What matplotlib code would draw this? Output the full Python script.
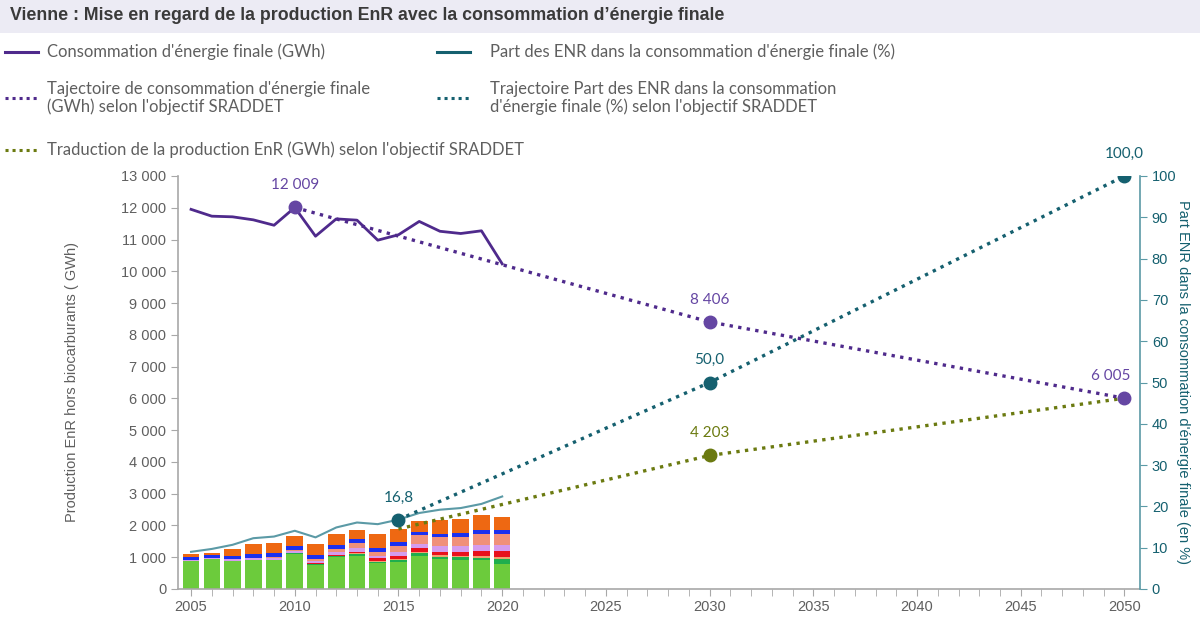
import matplotlib
matplotlib.use("Agg")
import matplotlib.pyplot as plt
from matplotlib.lines import Line2D
from matplotlib.patches import Rectangle
from matplotlib.ticker import FuncFormatter, MultipleLocator

# --- données ---------------------------------------------------------------
ANNEES = list(range(2005, 2021))

# production EnR par filière (GWh), empilée du bas vers le haut
PROD_VERT = [880, 930, 880, 910, 910, 1100, 760, 1010, 1050, 810, 860, 1050, 940, 920, 900, 800]
PROD_VERT_FONCE = [10, 10, 10, 10, 10, 20, 30, 40, 50, 50, 60, 80, 80, 80, 90, 130]
PROD_ORANGE_CLAIR = [0, 0, 0, 0, 0, 0, 0, 0, 30, 30, 40, 50, 50, 50, 60, 70]
PROD_ROUGE = [0, 0, 0, 0, 0, 10, 20, 20, 40, 80, 80, 110, 110, 120, 160, 200]
PROD_VIOLET = [30, 40, 40, 50, 60, 60, 70, 90, 120, 80, 120, 140, 170, 170, 180, 170]
PROD_SAUMON = [0, 0, 10, 20, 30, 30, 80, 100, 170, 120, 200, 260, 280, 300, 350, 370]
PROD_BLEU = [80, 80, 90, 110, 120, 120, 120, 110, 110, 120, 110, 110, 110, 110, 110, 110]
PROD_ORANGE = [95, 85, 220, 320, 320, 340, 330, 355, 280, 435, 420, 325, 435, 450, 475, 430]

CONSO = [11950, 11735, 11715, 11620, 11450, 12009, 11105, 11650, 11610, 10980,
         11150, 11570, 11260, 11190, 11275, 10235]
PART_ENR = [9.0, 9.7, 10.7, 12.3, 12.7, 14.1, 12.5, 14.9, 16.1, 15.7,
            16.8, 18.4, 19.2, 19.6, 20.6, 22.4]

TRAJ_CONSO_ANNEES = [2010, 2030, 2050]
TRAJ_CONSO = [12009, 8406, 6005]
TRAJ_PART_ANNEES = [2015, 2030, 2050]
TRAJ_PART = [16.8, 50.0, 100.0]
TRAJ_PROD_ANNEES = [2015, 2030, 2050]
TRAJ_PROD = [1890, 4203, 6005]

# --- style -----------------------------------------------------------------
VIOLET_FONCE = "#4f2a8c"
VIOLET_MARQ = "#6546a3"
SARCELLE = "#15606f"
SARCELLE_CLAIR = "#5b9aa6"
OLIVE = "#6b7a10"
GRIS = "#5f5f5f"
GRIS_AXE = "#a8a8a8"
TITRE_FOND = "#ecebf4"

COULEURS_PILE = ["#6ccb3c", "#1fae4e", "#f3a070", "#e8101c",
                 "#d49cee", "#f0907a", "#1a30f0", "#ee6812"]
PILES = [PROD_VERT, PROD_VERT_FONCE, PROD_ORANGE_CLAIR, PROD_ROUGE,
         PROD_VIOLET, PROD_SAUMON, PROD_BLEU, PROD_ORANGE]

POLICE = ["Lato", "DejaVu Sans"]
POLICE_AXE = ["Liberation Sans", "DejaVu Sans"]


def milliers(v, _pos=None):
    return f"{int(round(v)):,}".replace(",", " ")


fig = plt.figure(figsize=(12, 6.22), dpi=100)
fig.patch.set_facecolor("white")

# bandeau de titre
fig.add_artist(Rectangle((0, 1 - 33 / 622), 1, 33 / 622, transform=fig.transFigure,
                         facecolor=TITRE_FOND, edgecolor="none"))
fig.text(10 / 1200, 1 - 16 / 622,
         "Vienne : Mise en regard de la production EnR avec la consommation d’énergie finale",
         family=["Liberation Sans Narrow", "Liberation Sans", "DejaVu Sans"],
         weight="bold", fontsize=12.8, color="#3a3a3a", va="center", ha="left")

# légende (dessinée à la main pour suivre la mise en page d'origine)
legende = [
    (5, 47, 52, VIOLET_FONCE, "-", "Consommation d'énergie finale (GWh)"),
    (5, 47, 98, VIOLET_FONCE, ":", "Tajectoire de consommation d'énergie finale\n(GWh) selon l'objectif SRADDET"),
    (5, 47, 150, OLIVE, ":", "Traduction de la production EnR (GWh) selon l'objectif SRADDET"),
    (437, 490, 52, SARCELLE, "-", "Part des ENR dans la consommation d'énergie finale (%)"),
    (437, 490, 98, SARCELLE, ":", "Trajectoire Part des ENR dans la consommation\nd'énergie finale (%) selon l'objectif SRADDET"),
]
for x0, xt, y0, c, ls, txt in legende:
    yf = 1 - y0 / 622
    fig.add_artist(Line2D([x0 / 1200, (x0 + 33) / 1200], [yf, yf], transform=fig.transFigure,
                          color=c, lw=2.2, linestyle=ls if ls == "-" else (0, (1, 1.3))))
    fig.text(xt / 1200, yf, txt, family=POLICE, fontsize=12, color=GRIS,
             va="center", ha="left", linespacing=1.1)

ax = fig.add_axes([178 / 1200, 1 - 589 / 622, (1140 - 178) / 1200, (589 - 176) / 622])
ax2 = ax.twinx()

# barres empilées
bas = [0] * len(ANNEES)
for serie, couleur in zip(PILES, COULEURS_PILE):
    ax.bar(ANNEES, serie, bottom=bas, width=0.8, color=couleur, edgecolor="none", zorder=2)
    bas = [b + s for b, s in zip(bas, serie)]

# consommation et trajectoires (axe gauche)
ax.plot(ANNEES, CONSO, color=VIOLET_FONCE, lw=2, zorder=3)
ax.plot(TRAJ_CONSO_ANNEES, TRAJ_CONSO, color=VIOLET_FONCE, lw=2.4,
        linestyle=(0, (1, 1.6)), marker="o", ms=9, mfc=VIOLET_MARQ, mec=VIOLET_MARQ, zorder=4)
ax.plot(TRAJ_PROD_ANNEES, TRAJ_PROD, color=OLIVE, lw=2.4, linestyle=(0, (1, 1.6)), zorder=3)
ax.plot(TRAJ_PROD_ANNEES[1:2], TRAJ_PROD[1:2], "o", ms=9, color=OLIVE, zorder=4)

for x, y in zip(TRAJ_CONSO_ANNEES, TRAJ_CONSO):
    dx = -10 if x == 2050 else 0
    ax.annotate(milliers(y), (x, y), xytext=(dx, 16), textcoords="offset points",
                ha="center", va="center", color=VIOLET_MARQ, fontsize=11, family=POLICE)
ax.annotate(milliers(TRAJ_PROD[1]), (TRAJ_PROD_ANNEES[1], TRAJ_PROD[1]), xytext=(0, 16),
            textcoords="offset points", ha="center", va="center", color=OLIVE,
            fontsize=11, family=POLICE)

# part des ENR (axe droit)
ax2.plot(ANNEES, PART_ENR, color=SARCELLE_CLAIR, lw=1.5, zorder=3)
ax2.plot(TRAJ_PART_ANNEES, TRAJ_PART, color=SARCELLE, lw=2.4, linestyle=(0, (1, 1.6)),
         marker="o", ms=9, mfc=SARCELLE, mec=SARCELLE, zorder=4)
for x, y in zip(TRAJ_PART_ANNEES, TRAJ_PART):
    ax2.annotate(f"{y:.1f}".replace(".", ","), (x, y), xytext=(0, 16), textcoords="offset points",
                 ha="center", va="center", color=SARCELLE, fontsize=11, family=POLICE,
                 annotation_clip=False)

# axes
ax.set_xlim(2004.37, 2050.75)
ax.set_ylim(0, 13000)
ax2.set_ylim(0, 100)
ax.xaxis.set_major_locator(MultipleLocator(5))
ax.xaxis.set_minor_locator(MultipleLocator(1))
ax.yaxis.set_major_locator(MultipleLocator(1000))
ax.yaxis.set_major_formatter(FuncFormatter(milliers))
ax2.yaxis.set_major_locator(MultipleLocator(10))

for a in (ax, ax2):
    a.spines["top"].set_visible(False)
    a.set_facecolor("none")
ax.spines["right"].set_visible(False)
ax.spines["left"].set_color(GRIS_AXE)
ax.spines["bottom"].set_color(GRIS_AXE)
ax2.spines["left"].set_visible(False)
ax2.spines["bottom"].set_visible(False)
ax2.spines["right"].set_color(SARCELLE_CLAIR)
ax2.spines["right"].set_linewidth(1.2)
ax.spines["left"].set_linewidth(1.2)
ax.spines["bottom"].set_linewidth(1.2)

ax.tick_params(axis="both", which="both", colors=GRIS_AXE, labelcolor=GRIS, labelsize=10.5, length=5)
ax.tick_params(axis="x", which="major", pad=3)
ax2.tick_params(axis="y", colors=SARCELLE_CLAIR, labelcolor=SARCELLE, labelsize=10.5, length=5)
for lab in ax.get_xticklabels() + ax.get_yticklabels() + ax2.get_yticklabels():
    lab.set_family(POLICE_AXE)

ax.set_ylabel("Production EnR hors biocarburants ( GWh)", color=GRIS, fontsize=10.5,
              family=POLICE_AXE, labelpad=30)
ax2.set_ylabel("Part ENR dans la consommation d'énergie finale (en %)", color=SARCELLE,
               fontsize=10.5, family=POLICE_AXE, rotation=-90, labelpad=10)

fig.savefig("out.png", dpi=100)
